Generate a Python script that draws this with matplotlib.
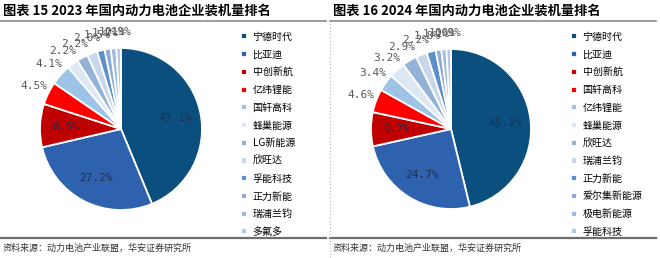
import numpy as np
import matplotlib.pyplot as plt
from matplotlib.lines import Line2D

plt.rcParams['font.family'] = ['Noto Sans CJK SC', 'DejaVu Sans']

# 2023
names23 = ['宁德时代', '比亚迪', '中创新航', '亿纬锂能', '国轩高科', '蜂巢能源',
           'LG新能源', '欣旺达', '孚能科技', '正力新能', '瑞浦兰钧', '多氟多']
share23 = [43.1, 27.2, 8.5, 4.5, 4.1, 2.2, 2.2, 2.0, 1.5, 1.2, 1.1, 0.9]

# 2024
names24 = ['宁德时代', '比亚迪', '中创新航', '国轩高科', '亿纬锂能', '蜂巢能源',
           '欣旺达', '瑞浦兰钧', '正力新能', '爱尔集新能源', '极电新能源', '孚能科技']
share24 = [45.1, 24.7, 6.7, 4.6, 3.4, 3.2, 2.9, 2.2, 1.8, 1.1, 1.0, 0.9]

colors = ['#0b4f7f', '#2f62ae', '#c00000', '#ff0000', '#9dc3e6', '#dde8f4',
          '#94b2d8', '#c9d7ea', '#5b90cb', '#8eaad8', '#9bbce0', '#b4c7e7']

titles = ['图表 15 2023 年国内动力电池企业装机量排名',
          '图表 16 2024 年国内动力电池企业装机量排名']
source = '资料来源：动力电池产业联盟，华安证券研究所'

W, H = 660, 258
fig = plt.figure(figsize=(6.6, 2.58), dpi=100)


def draw_panel(x0, cx, cy, r, names, share, title):
    ax = fig.add_axes([(cx - r) / W, 1 - (cy + r) / H, 2 * r / W, 2 * r / H])
    wedges, _ = ax.pie(share, colors=colors, startangle=90, counterclock=False,
                       normalize=True,
                       wedgeprops=dict(edgecolor='white', linewidth=1.3))
    ax.set_xlim(-1, 1)
    ax.set_ylim(-1, 1)
    ax.set_aspect('equal')
    for i, w in enumerate(wedges):
        ang = np.deg2rad((w.theta1 + w.theta2) / 2)
        lab = f'{share[i]:.1f}%'
        if i < 3:
            d = 0.68
            ax.text(d * np.cos(ang), d * np.sin(ang), lab, ha='center', va='center',
                    fontsize=8, color='#1f3050', family='DejaVu Sans Mono')
        else:
            d = 1.2
            ax.text(d * np.cos(ang), d * np.sin(ang), lab, ha='center', va='center',
                    fontsize=8, color='#595959', family='DejaVu Sans Mono')
    fig.legend(wedges, names, loc='upper left',
               bbox_to_anchor=((x0 + 236) / W, 1 - 27 / H),
               frameon=False, fontsize=7.2, handlelength=0.55, handleheight=0.55,
               handletextpad=0.6, labelspacing=0.77, borderpad=0)
    fig.text((x0 + 3) / W, 1 - 11 / H, title, fontsize=9.5, fontweight='bold',
             ha='left', va='center', color='black')
    fig.text((x0 + 3) / W, 1 - 248 / H, source, fontsize=6.5,
             ha='left', va='center', color='#333333')
    fig.add_artist(Line2D([(x0 + 0) / W, (x0 + 326) / W], [1 - 21 / H] * 2,
                          color='#8c8c8c', lw=1.2))
    fig.add_artist(Line2D([(x0 + 0) / W, (x0 + 326) / W], [1 - 238 / H] * 2,
                          color='#6e6e6e', lw=1.6))


draw_panel(0, 121, 129, 81, names23, share23, titles[0])
draw_panel(330, 451, 129, 80, names24, share24, titles[1])

fig.add_artist(Line2D([330 / W] * 2, [0, 1 - 21 / H], color='#b0b0b0',
                      lw=0.8, ls=(0, (1, 2))))

fig.savefig('out.png', dpi=100, facecolor='white')
